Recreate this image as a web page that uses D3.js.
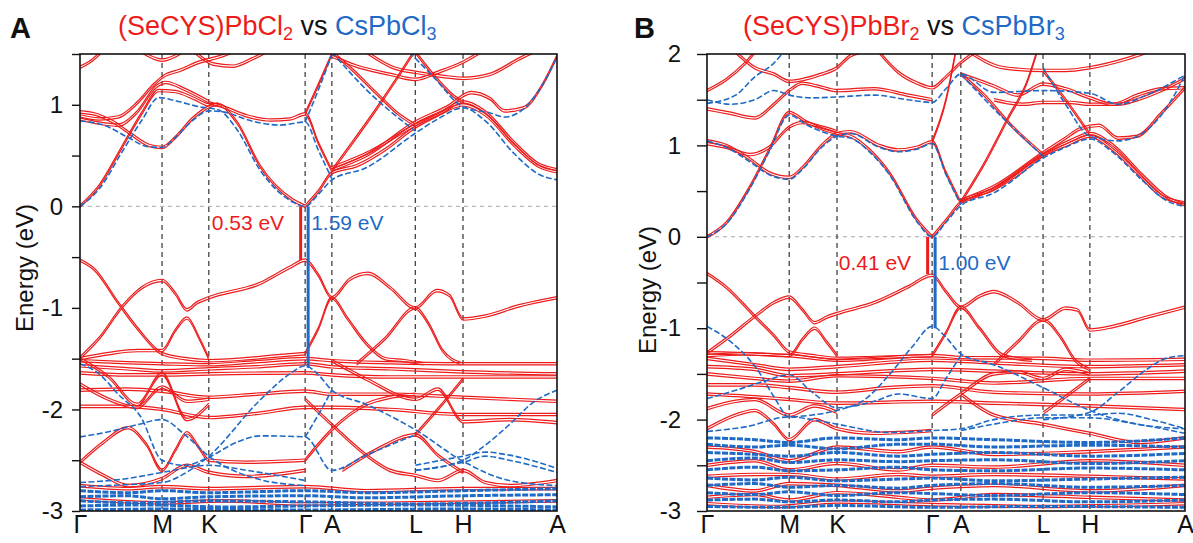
<!DOCTYPE html>
<html>
<head>
<meta charset="utf-8">
<script src="https://cdn.jsdelivr.net/npm/d3@7"></script>
<style>
  body { margin: 0; background: #fff; }
  svg { font-family: "Liberation Sans", Arial, sans-serif; }
</style>
</head>
<body>
<svg id="chart" width="1193" height="543"></svg>
<script>
// high-symmetry path
const kLabels = ["Γ", "M", "K", "Γ", "A", "L", "H", "A"];
const kTicksA = [0, 0.172, 0.27, 0.472, 0.528, 0.703, 0.803, 1];
const kTicksB = [0, 0.172, 0.272, 0.471, 0.531, 0.703, 0.801, 1];

// band gaps at Γ (eV)
const gapA = [0.53, 1.59];
const gapB = [0.41, 1.00];

// ---- panel A : (SeCYS)PbCl2 (red) vs CsPbCl3 (blue) ----
const redA = [
  [[0,0],[0.04,0.2],[0.09,0.6],[0.13,0.92],[0.165,1.14],[0.2,1.13],[0.24,1.06],[0.27,1.0],[0.29,1.0],[0.33,0.82],[0.377,0.4],[0.447,0.06],[0.472,0]],
  [[0,0.93],[0.03,0.91],[0.07,0.83],[0.11,0.7],[0.145,0.6],[0.172,0.58],[0.2,0.68],[0.235,0.86],[0.27,0.98],[0.29,1.01]],
  [[0,0.89],[0.04,0.86],[0.08,0.88],[0.12,1.02],[0.155,1.2],[0.175,1.28],[0.21,1.34],[0.25,1.42],[0.29,1.47],[0.32,1.52]],
  [[0,0.86],[0.04,0.82],[0.08,0.8],[0.12,0.93],[0.16,1.18],[0.18,1.22],[0.22,1.15],[0.27,1.03]],
  [[0,1.37],[0.02,1.42],[0.045,1.52]],
  [[0.13,1.52],[0.172,1.44],[0.215,1.52]],
  [[0.24,1.52],[0.28,1.4],[0.32,1.38],[0.36,1.45],[0.39,1.52]],
  [[0.27,1.02],[0.3,0.98],[0.35,0.89],[0.4,0.85],[0.44,0.86],[0.472,0.91],[0.5,0.62],[0.528,0.35]],
  [[0.472,0.91],[0.5,1.2],[0.53,1.52]],
  [[0.472,0],[0.5,0.15],[0.528,0.33],[0.58,0.4],[0.64,0.56],[0.703,0.78],[0.75,0.9],[0.803,1.0],[0.85,0.9],[0.91,0.6],[0.96,0.4],[1.0,0.34]],
  [[0.528,0.36],[0.6,0.5],[0.703,0.83],[0.77,0.98],[0.82,1.12],[0.86,1.06],[0.89,0.94],[0.93,0.97],[0.97,1.2],[1.0,1.48]],
  [[0.528,0.38],[0.6,0.52],[0.703,0.8],[0.76,0.93],[0.803,1.03],[0.85,0.93],[0.91,0.63],[0.96,0.42],[1.0,0.36]],
  [[0.528,1.52],[0.57,1.35],[0.62,1.12],[0.67,0.9],[0.703,0.8]],
  [[0.703,1.52],[0.74,1.3],[0.78,1.1],[0.803,1.02]],
  [[0.528,0.35],[0.57,0.62],[0.62,0.95],[0.67,1.3],[0.7,1.52]],
  [[0.528,1.48],[0.58,1.38],[0.65,1.3],[0.703,1.25],[0.75,1.32],[0.803,1.42],[0.84,1.52]],
  [[0.6,1.52],[0.66,1.36],[0.703,1.32],[0.76,1.28],[0.803,1.26],[0.86,1.3],[0.92,1.45],[0.95,1.52]],
  // valence
  [[0,-0.53],[0.03,-0.62],[0.08,-0.95],[0.12,-1.2],[0.172,-1.45],[0.22,-1.5],[0.27,-1.52],[0.35,-1.5],[0.42,-1.47],[0.472,-1.45]],
  [[0,-1.49],[0.04,-1.3],[0.09,-0.98],[0.13,-0.8],[0.172,-0.73],[0.2,-0.86],[0.224,-1.02],[0.245,-0.95],[0.27,-0.9],[0.377,-0.76],[0.44,-0.6],[0.472,-0.53],[0.5,-0.68],[0.528,-0.9],[0.565,-0.72],[0.604,-0.66],[0.65,-0.8],[0.703,-1.0],[0.748,-0.83],[0.775,-0.88],[0.803,-1.11],[0.85,-1.08],[0.92,-0.98],[1.0,-0.9]],
  [[0,-1.5],[0.06,-1.45],[0.12,-1.42],[0.172,-1.42],[0.2,-1.22],[0.224,-1.1],[0.25,-1.3],[0.27,-1.5]],
  [[0.472,-1.45],[0.5,-1.2],[0.528,-0.9],[0.56,-1.1],[0.6,-1.35],[0.64,-1.5],[0.68,-1.52],[0.72,-1.55]],
  [[0.58,-1.55],[0.64,-1.3],[0.703,-1.0],[0.73,-1.15],[0.76,-1.42],[0.8,-1.55]],
  [[0,-1.52],[0.1,-1.54],[0.172,-1.55],[0.27,-1.56],[0.37,-1.53],[0.472,-1.5],[0.528,-1.52],[0.65,-1.54],[0.803,-1.55],[0.9,-1.55],[1.0,-1.55]],
  [[0,-1.57],[0.1,-1.6],[0.172,-1.62],[0.27,-1.6],[0.37,-1.58],[0.472,-1.55],[0.528,-1.58],[0.65,-1.6],[0.803,-1.63],[1.0,-1.65]],
  [[0,-1.64],[0.1,-1.66],[0.172,-1.66],[0.27,-1.65],[0.472,-1.64],[0.528,-1.66],[0.65,-1.68],[0.803,-1.68],[1.0,-1.68]],
  [[0,-1.81],[0.1,-1.8],[0.172,-1.82],[0.27,-1.88],[0.37,-1.85],[0.472,-1.82],[0.528,-1.85],[0.65,-1.85],[0.803,-1.88],[1.0,-1.92]],
  [[0,-1.97],[0.1,-1.97],[0.172,-2.0],[0.27,-2.08],[0.37,-2.04],[0.472,-1.98],[0.528,-1.98],[0.65,-2.0],[0.803,-2.05],[1.0,-2.05]],
  [[0,-1.5],[0.06,-1.68],[0.12,-1.95],[0.172,-1.65],[0.224,-2.1],[0.27,-1.95]],
  [[0,-1.75],[0.06,-1.9],[0.12,-1.98],[0.172,-1.78],[0.224,-1.92],[0.27,-1.9]],
  [[0.528,-1.52],[0.6,-1.7],[0.703,-1.9],[0.75,-1.8],[0.803,-2.12],[0.9,-2.1],[1.0,-2.13]],
  [[0,-2.52],[0.05,-2.32],[0.1,-2.18],[0.14,-2.35],[0.172,-2.6],[0.2,-2.4],[0.224,-2.23],[0.25,-2.38],[0.27,-2.5],[0.35,-2.52],[0.472,-2.5]],
  [[0,-2.52],[0.05,-2.65],[0.1,-2.75],[0.172,-2.68],[0.224,-2.55],[0.27,-2.62],[0.35,-2.66],[0.472,-2.6]],
  [[0.472,-2.5],[0.528,-2.2],[0.6,-1.95],[0.65,-1.88],[0.703,-1.85]],
  [[0.472,-1.9],[0.528,-2.15],[0.6,-2.45],[0.65,-2.6],[0.703,-2.65],[0.75,-2.7],[0.803,-2.6],[0.85,-2.72],[0.9,-2.75],[1,-2.7]],
  [[0.703,-2.25],[0.75,-2.0],[0.803,-1.7]],
  [[0.55,-2.6],[0.62,-2.4],[0.703,-2.25],[0.75,-2.45],[0.803,-2.62]],
  [[0,-2.75],[0.1,-2.78],[0.172,-2.76],[0.27,-2.78],[0.472,-2.76],[0.6,-2.8],[0.803,-2.78],[1,-2.78]],
  [[0,-2.88],[0.172,-2.92],[0.3,-2.9],[0.472,-2.93],[0.7,-2.92],[1,-2.9]]
];
const blueA = [
  [[0,0],[0.04,0.17],[0.09,0.55],[0.13,0.85],[0.165,1.07],[0.2,1.04],[0.25,0.98],[0.29,0.95],[0.33,0.75],[0.377,0.36],[0.447,0.04],[0.472,0],[0.5,0.12],[0.528,0.26],[0.6,0.38],[0.703,0.72],[0.75,0.86],[0.803,0.97],[0.85,0.84],[0.91,0.52],[0.96,0.32],[1.0,0.26]],
  [[0,0.84],[0.05,0.8],[0.1,0.68],[0.14,0.59],[0.172,0.58],[0.2,0.68],[0.24,0.86],[0.27,0.94],[0.3,0.93],[0.36,0.84],[0.42,0.8],[0.472,0.83],[0.5,0.55],[0.528,0.27]],
  [[0.472,0.83],[0.5,1.15],[0.53,1.52]],
  [[0.528,1.52],[0.6,1.15],[0.703,0.74]],
  [[0.69,1.52],[0.74,1.28],[0.803,0.98],[0.86,0.92],[0.89,0.88],[0.93,0.96],[0.97,1.2],[1.0,1.47]],
  [[0,-1.55],[0.04,-1.65],[0.08,-1.85],[0.127,-2.07],[0.172,-2.5],[0.22,-2.55],[0.27,-2.47],[0.33,-2.32],[0.377,-2.26],[0.472,-2.27],[0.528,-2.6],[0.6,-2.45],[0.703,-2.25]],
  [[0,-2.27],[0.06,-2.22],[0.12,-2.15],[0.172,-2.1],[0.22,-2.25],[0.27,-2.46],[0.377,-2.69],[0.472,-2.75]],
  [[0,-2.76],[0.1,-2.74],[0.172,-2.72],[0.23,-2.6],[0.27,-2.46],[0.377,-1.91],[0.44,-1.65],[0.472,-1.57],[0.5,-1.66],[0.528,-1.81],[0.6,-1.95],[0.703,-2.2],[0.803,-2.51],[0.9,-2.7],[1,-2.75]],
  [[0.472,-2.27],[0.5,-2.05],[0.528,-1.81]],
  [[0.703,-2.6],[0.803,-2.5],[0.85,-2.35],[0.9,-2.15],[0.95,-1.93],[1,-1.81]],
  [[0.703,-2.55],[0.803,-2.46],[0.85,-2.42],[0.9,-2.45],[1,-2.58]],
  [[0.703,-2.6],[0.803,-2.52],[0.85,-2.46],[0.9,-2.5],[1,-2.62]],
  [[0,-2.72],[0.1,-2.68],[0.172,-2.62],[0.27,-2.55],[0.35,-2.6],[0.472,-2.7]]
];
const blueDenseA = [
  [[0,-2.8],[0.1,-2.82],[0.172,-2.8],[0.27,-2.82],[0.472,-2.8],[0.6,-2.82],[0.803,-2.8],[1,-2.78]],
  [[0,-2.86],[0.1,-2.85],[0.172,-2.88],[0.27,-2.86],[0.472,-2.85],[0.6,-2.87],[0.803,-2.85],[1,-2.84]],
  [[0,-2.9],[0.12,-2.92],[0.27,-2.9],[0.472,-2.91],[0.7,-2.93],[1,-2.9]],
  [[0,-2.95],[0.15,-2.94],[0.3,-2.96],[0.472,-2.95],[0.7,-2.94],[1,-2.96]],
  [[0,-2.99],[0.2,-2.98],[0.472,-2.99],[0.8,-2.98],[1,-2.99]]
];

// ---- panel B : (SeCYS)PbBr2 (red) vs CsPbBr3 (blue) ----
const redB = [
  [[0,0],[0.04,0.15],[0.09,0.55],[0.13,0.95],[0.172,1.36],[0.21,1.25],[0.272,1.13],[0.3,1.1],[0.34,0.95],[0.383,0.69],[0.44,0.18],[0.471,0]],
  [[0,1.05],[0.04,1.0],[0.09,0.85],[0.13,0.7],[0.172,0.65],[0.2,0.76],[0.24,1.0],[0.272,1.13],[0.3,1.15],[0.36,1.0],[0.4,0.95],[0.44,0.98],[0.471,1.04],[0.5,0.7],[0.531,0.37]],
  [[0,1.02],[0.04,0.98],[0.09,0.9],[0.13,0.98],[0.172,1.2],[0.2,1.25],[0.24,1.2],[0.272,1.15]],
  [[0,1.4],[0.05,1.35],[0.1,1.3],[0.14,1.45],[0.172,1.6],[0.2,1.68],[0.23,1.65],[0.272,1.6],[0.35,1.62],[0.42,1.55],[0.471,1.5]],
  [[0,1.6],[0.04,1.72],[0.08,1.9],[0.1,2.02]],
  [[0.06,2.02],[0.1,1.85],[0.14,1.78],[0.172,1.7],[0.2,1.72],[0.24,1.78],[0.272,1.85],[0.3,1.98],[0.32,2.02]],
  [[0.36,2.02],[0.4,1.8],[0.44,1.68],[0.471,1.63],[0.5,1.75],[0.53,1.9],[0.56,2.02]],
  [[0.471,1.04],[0.5,1.5],[0.52,2.02]],
  [[0.471,0],[0.5,0.18],[0.531,0.38],[0.6,0.52],[0.65,0.68],[0.703,0.89],[0.75,1.0],[0.801,1.1],[0.85,0.95],[0.9,0.7],[0.95,0.45],[1.0,0.37]],
  [[0.531,0.4],[0.6,0.55],[0.703,0.92],[0.75,1.08],[0.78,1.18],[0.82,1.22],[0.86,1.08],[0.9,1.1],[0.95,1.35],[1.0,1.63]],
  [[0.531,0.38],[0.6,0.53],[0.703,0.9],[0.76,1.05],[0.801,1.13],[0.85,1.0],[0.91,0.68],[0.96,0.44],[1.0,0.35]],
  [[0.531,1.78],[0.58,1.55],[0.64,1.2],[0.703,0.9]],
  [[0.531,0.38],[0.58,0.8],[0.63,1.3],[0.67,1.7],[0.69,2.02]],
  [[0.703,1.82],[0.75,1.5],[0.801,1.12]],
  [[0.531,1.78],[0.6,1.65],[0.65,1.55],[0.703,1.67],[0.75,1.62],[0.801,1.52],[0.85,1.45],[0.9,1.55],[0.95,1.62],[1,1.63]],
  [[0.55,2.02],[0.62,1.85],[0.703,1.82],[0.75,1.82],[0.801,1.85],[0.88,1.95],[0.92,2.02]],
  [[0.6,1.5],[0.66,1.45],[0.703,1.47],[0.76,1.47],[0.801,1.45],[0.86,1.45],[0.9,1.5],[0.95,1.6],[1,1.73]],
  // valence
  [[0,-0.4],[0.04,-0.55],[0.1,-0.87],[0.14,-1.08],[0.172,-1.26],[0.22,-1.3],[0.272,-1.33],[0.35,-1.32],[0.471,-1.3]],
  [[0,-1.27],[0.05,-1.08],[0.1,-0.87],[0.14,-0.72],[0.172,-0.66],[0.2,-0.8],[0.225,-0.94],[0.25,-0.88],[0.272,-0.84],[0.35,-0.72],[0.42,-0.55],[0.471,-0.42],[0.5,-0.6],[0.531,-0.77],[0.57,-0.65],[0.6,-0.6],[0.65,-0.72],[0.703,-0.91],[0.75,-0.78],[0.775,-0.8],[0.801,-1.02],[0.85,-0.98],[0.92,-0.88],[1,-0.77]],
  [[0,-1.3],[0.08,-1.28],[0.172,-1.3],[0.2,-1.12],[0.225,-1.0],[0.25,-1.15],[0.272,-1.3]],
  [[0.471,-1.3],[0.5,-1.05],[0.531,-0.77],[0.57,-1.0],[0.62,-1.3],[0.68,-1.35]],
  [[0.6,-1.4],[0.65,-1.15],[0.703,-0.91],[0.74,-1.1],[0.77,-1.35],[0.8,-1.45]],
  [[0,-1.27],[0.172,-1.3],[0.272,-1.35],[0.471,-1.3],[0.531,-1.32],[0.703,-1.33],[0.801,-1.35],[1,-1.34]],
  [[0,-1.33],[0.1,-1.4],[0.172,-1.45],[0.272,-1.42],[0.471,-1.35],[0.6,-1.38],[0.801,-1.42],[1,-1.4]],
  [[0,-1.42],[0.1,-1.45],[0.172,-1.52],[0.272,-1.5],[0.471,-1.45],[0.6,-1.47],[0.801,-1.5],[1,-1.47]],
  [[0,-1.5],[0.1,-1.55],[0.172,-1.58],[0.272,-1.52],[0.471,-1.55],[0.6,-1.6],[0.801,-1.55],[1,-1.55]],
  [[0,-1.62],[0.1,-1.62],[0.172,-1.65],[0.272,-1.7],[0.38,-1.65],[0.471,-1.63],[0.6,-1.7],[0.801,-1.72],[1,-1.69]],
  [[0,-1.72],[0.1,-1.75],[0.172,-1.78],[0.272,-1.82],[0.471,-1.8],[0.6,-1.82],[0.801,-1.85],[1,-1.89]],
  [[0,-1.88],[0.06,-1.8],[0.1,-1.78],[0.172,-1.95],[0.225,-1.85],[0.272,-1.92]],
  [[0,-2.1],[0.06,-1.95],[0.1,-1.9],[0.14,-2.05],[0.172,-2.22],[0.225,-2.0],[0.272,-2.1],[0.35,-2.15],[0.471,-2.12]],
  [[0.471,-1.95],[0.531,-1.72],[0.6,-1.5],[0.65,-1.48],[0.703,-1.55],[0.75,-1.45],[0.801,-1.5]],
  [[0.531,-1.72],[0.6,-1.95],[0.703,-2.05],[0.75,-2.1],[0.801,-2.15],[0.9,-2.25],[1,-2.2]],
  [[0.703,-1.93],[0.75,-1.75],[0.801,-1.55]],
  [[0,-2.3],[0.1,-2.35],[0.172,-2.45],[0.272,-2.3],[0.4,-2.35],[0.471,-2.3],[0.6,-2.38],[0.801,-2.35],[1,-2.3]],
  [[0,-2.5],[0.1,-2.45],[0.172,-2.55],[0.272,-2.48],[0.4,-2.55],[0.471,-2.5],[0.6,-2.52],[0.801,-2.45],[1,-2.5]],
  [[0,-2.62],[0.1,-2.6],[0.172,-2.6],[0.272,-2.65],[0.4,-2.6],[0.471,-2.62],[0.6,-2.6],[0.801,-2.62],[1,-2.65]],
  [[0,-2.72],[0.1,-2.78],[0.172,-2.7],[0.272,-2.72],[0.4,-2.78],[0.471,-2.75],[0.6,-2.72],[0.801,-2.78],[1,-2.72]],
  [[0,-2.85],[0.1,-2.82],[0.172,-2.88],[0.272,-2.8],[0.4,-2.85],[0.471,-2.88],[0.6,-2.82],[0.801,-2.85],[1,-2.88]],
  [[0,-2.92],[0.15,-2.95],[0.272,-2.9],[0.471,-2.93],[0.7,-2.95],[1,-2.92]]
];
const blueB = [
  [[0,0],[0.04,0.14],[0.09,0.53],[0.13,0.93],[0.172,1.33],[0.21,1.22],[0.272,1.1],[0.3,1.08],[0.34,0.93],[0.383,0.67],[0.44,0.16],[0.471,0],[0.5,0.16],[0.531,0.34],[0.6,0.48],[0.703,0.86],[0.75,0.98],[0.801,1.07],[0.85,0.92],[0.91,0.62],[0.96,0.4],[1.0,0.33]],
  [[0,1.05],[0.04,0.98],[0.09,0.82],[0.13,0.68],[0.172,0.63],[0.2,0.74],[0.24,0.98],[0.272,1.1],[0.3,1.13],[0.36,0.98],[0.4,0.93],[0.44,0.96],[0.471,1.02],[0.5,0.68],[0.531,0.35]],
  [[0,1.5],[0.05,1.45],[0.1,1.5],[0.14,1.6],[0.172,1.55],[0.22,1.52],[0.272,1.53],[0.35,1.55],[0.42,1.5],[0.471,1.47],[0.5,1.62],[0.531,1.78],[0.6,1.58],[0.703,1.6],[0.801,1.57],[0.86,1.45],[0.92,1.55],[1,1.77]],
  [[0,1.46],[0.06,1.55],[0.1,1.75],[0.14,1.9],[0.16,2.02]],
  [[0.531,1.78],[0.6,1.4],[0.703,0.88]],
  [[0.703,1.85],[0.75,1.45],[0.801,1.1],[0.86,1.05],[0.9,1.1],[0.96,1.4],[1,1.77]],
  [[0,-0.98],[0.05,-1.15],[0.105,-1.45],[0.14,-1.75],[0.172,-1.97],[0.22,-1.95],[0.272,-1.9],[0.33,-1.78],[0.383,-1.5],[0.43,-1.2],[0.471,-0.98],[0.5,-1.1],[0.531,-1.28],[0.6,-1.4],[0.703,-1.65],[0.801,-1.9],[0.9,-2.05],[1,-2.1]],
  [[0,-1.77],[0.06,-1.68],[0.12,-1.58],[0.172,-1.51],[0.22,-1.7],[0.272,-1.87],[0.35,-1.8],[0.4,-1.72],[0.471,-1.77],[0.5,-1.55],[0.531,-1.3]],
  [[0,-2.13],[0.08,-2.08],[0.172,-1.97],[0.22,-2.0],[0.272,-2.05],[0.38,-2.14],[0.471,-2.12],[0.531,-2.1],[0.6,-2.0],[0.703,-1.95],[0.801,-1.95],[0.86,-1.93],[0.93,-2.0],[1,-2.1]],
  [[0.531,-2.12],[0.6,-2.05],[0.703,-1.98],[0.801,-1.98],[0.9,-2.05],[1,-2.15]],
  [[0.703,-2.0],[0.801,-1.92],[0.86,-1.7],[0.92,-1.45],[0.96,-1.33],[1,-1.3]]
];
const blueDenseB = [
  [[0,-2.2],[0.1,-2.22],[0.172,-2.25],[0.272,-2.2],[0.4,-2.22],[0.471,-2.2],[0.6,-2.22],[0.801,-2.25],[1,-2.2]],
  [[0,-2.27],[0.1,-2.3],[0.172,-2.28],[0.272,-2.32],[0.4,-2.27],[0.471,-2.27],[0.6,-2.3],[0.801,-2.28],[1,-2.3]],
  [[0,-2.36],[0.1,-2.38],[0.172,-2.4],[0.272,-2.36],[0.4,-2.4],[0.471,-2.38],[0.6,-2.36],[0.801,-2.4],[1,-2.37]],
  [[0,-2.45],[0.1,-2.42],[0.172,-2.47],[0.272,-2.44],[0.4,-2.46],[0.471,-2.45],[0.6,-2.44],[0.801,-2.48],[1,-2.45]],
  [[0,-2.55],[0.1,-2.52],[0.172,-2.56],[0.272,-2.55],[0.4,-2.52],[0.471,-2.55],[0.6,-2.56],[0.801,-2.53],[1,-2.55]],
  [[0,-2.64],[0.1,-2.66],[0.172,-2.63],[0.272,-2.67],[0.4,-2.65],[0.471,-2.64],[0.6,-2.67],[0.801,-2.65],[1,-2.63]],
  [[0,-2.72],[0.1,-2.7],[0.172,-2.74],[0.272,-2.72],[0.4,-2.75],[0.471,-2.72],[0.6,-2.7],[0.801,-2.74],[1,-2.72]],
  [[0,-2.8],[0.1,-2.82],[0.172,-2.79],[0.272,-2.83],[0.4,-2.8],[0.471,-2.81],[0.6,-2.83],[0.801,-2.8],[1,-2.82]],
  [[0,-2.88],[0.1,-2.87],[0.172,-2.9],[0.272,-2.88],[0.4,-2.9],[0.471,-2.88],[0.6,-2.87],[0.801,-2.9],[1,-2.88]],
  [[0,-2.95],[0.15,-2.96],[0.272,-2.94],[0.471,-2.96],[0.7,-2.95],[1,-2.96]]
];

const RED = "#ee1b1b";
const BLUE = "#1f6ac6";

const svg = d3.select("#chart");

function drawPanel(p) {
  const g = svg.append("g");
  const x = d3.scaleLinear().domain([0, 1]).range([p.left, p.right]);
  const y = d3.scaleLinear().domain([-3, p.yMax]).range([p.bottom, p.top]);

  g.append("clipPath").attr("id", "clip" + p.id)
    .append("rect")
    .attr("x", p.left).attr("y", p.top)
    .attr("width", p.right - p.left).attr("height", p.bottom - p.top);

  // zero line
  g.append("line")
    .attr("x1", x(0)).attr("x2", x(1))
    .attr("y1", y(0)).attr("y2", y(0))
    .attr("stroke", "#aaa").attr("stroke-width", 1)
    .attr("stroke-dasharray", "4,4");

  // high-symmetry vertical lines
  g.selectAll(".kline").data(p.ticks.slice(1, -1)).enter().append("line")
    .attr("x1", d => x(d)).attr("x2", d => x(d))
    .attr("y1", p.top).attr("y2", p.bottom)
    .attr("stroke", "#444").attr("stroke-width", 1.3)
    .attr("stroke-dasharray", "5,4");

  const line = d3.line()
    .x(d => x(d[0]))
    .y(d => y(d[1]))
    .curve(d3.curveMonotoneX);

  const bands = g.append("g").attr("clip-path", "url(#clip" + p.id + ")");

  // red bands are drawn as close doubled lines
  [-1.2, 1.2].forEach(off => {
    bands.append("g").attr("transform", "translate(0," + off + ")")
      .selectAll("path").data(p.red).enter().append("path")
      .attr("d", line)
      .attr("fill", "none").attr("stroke", RED).attr("stroke-width", 1.2);
  });

  bands.append("g").selectAll("path").data(p.blueDense).enter().append("path")
    .attr("d", line)
    .attr("fill", "none").attr("stroke", BLUE).attr("stroke-width", 3)
    .attr("stroke-dasharray", "6,1.5");

  bands.append("g").selectAll("path").data(p.blue).enter().append("path")
    .attr("d", line)
    .attr("fill", "none").attr("stroke", BLUE).attr("stroke-width", 1.6)
    .attr("stroke-dasharray", "6,2.5");

  // gap bars
  const xg = x(p.ticks[3]);
  g.append("line")
    .attr("x1", xg - 4.5).attr("x2", xg - 4.5)
    .attr("y1", y(0)).attr("y2", y(-p.gap[0]))
    .attr("stroke", RED).attr("stroke-width", 3);
  g.append("line")
    .attr("x1", xg + 3).attr("x2", xg + 3)
    .attr("y1", y(0)).attr("y2", y(-p.gap[1]))
    .attr("stroke", BLUE).attr("stroke-width", 3);
  g.append("text")
    .attr("x", xg - 21).attr("y", y(0) + p.gapDy)
    .attr("text-anchor", "end").attr("font-size", 21).attr("fill", RED)
    .text(p.gap[0].toFixed(2) + " eV");
  g.append("text")
    .attr("x", xg + 6).attr("y", y(0) + p.gapDy)
    .attr("text-anchor", "start").attr("font-size", 21).attr("fill", BLUE)
    .text(p.gap[1].toFixed(2) + " eV");

  // frame
  g.append("rect")
    .attr("x", p.left).attr("y", p.top)
    .attr("width", p.right - p.left).attr("height", p.bottom - p.top)
    .attr("fill", "none").attr("stroke", "#111").attr("stroke-width", 1.6);

  // y axis
  const yAxis = d3.axisLeft(y)
    .tickValues(d3.range(-3, p.yMax + 0.01, 0.5))
    .tickSize(p.tickLen)
    .tickPadding(p.tickPad)
    .tickFormat(d => Number.isInteger(d) ? String(d) : "");
  const ya = g.append("g").attr("transform", "translate(" + p.left + ",0)").call(yAxis);
  ya.select(".domain").remove();
  ya.selectAll("line").attr("stroke", "#111").attr("stroke-width", 1.4);
  ya.selectAll("text").attr("font-size", 24).attr("fill", "#111")
    .attr("font-family", "Liberation Sans, Arial, sans-serif");

  // x axis
  const xAxis = d3.axisBottom(x)
    .tickValues(p.ticks)
    .tickSize(0)
    .tickPadding(4)
    .tickFormat((d, i) => kLabels[i]);
  const xa = g.append("g").attr("transform", "translate(0," + p.bottom + ")").call(xAxis);
  xa.select(".domain").remove();
  xa.selectAll("text").attr("font-size", 25).attr("fill", "#111")
    .attr("font-family", "Liberation Sans, Arial, sans-serif");

  // axis title
  g.append("text")
    .attr("transform", "translate(" + p.ylabX + "," + p.ylabY + ") rotate(-90)")
    .attr("text-anchor", "middle").attr("font-size", 24).attr("fill", "#111")
    .text("Energy (eV)");

  // panel letter
  g.append("text")
    .attr("x", p.letterX).attr("y", 38)
    .attr("font-size", 29).attr("font-weight", "bold").attr("fill", "#111")
    .text(p.id);

  // title
  const t = g.append("text").attr("x", p.titleX).attr("y", 35).attr("font-size", 27);
  p.title.forEach(part => {
    const s = t.append("tspan").attr("fill", part[1]).text(part[0]);
    if (part[2] === "sub") s.attr("font-size", 18).attr("dy", 5);
    if (part[2] === "up") s.attr("dy", -5);
  });
}

drawPanel({
  id: "A", left: 80, right: 557, top: 54, bottom: 511, yMax: 1.5,
  ticks: kTicksA, red: redA, blue: blueA, blueDense: blueDenseA,
  gap: gapA, gapDy: 24, tickLen: 8, tickPad: 9,
  ylabX: 33, ylabY: 268, letterX: 10, titleX: 118,
  title: [["(SeCYS)PbCl", RED], ["2", RED, "sub"], [" vs ", "#111", "up"],
           ["CsPbCl", BLUE], ["3", BLUE, "sub"]]
});
drawPanel({
  id: "B", left: 707, right: 1185, top: 54, bottom: 511, yMax: 2,
  ticks: kTicksB, red: redB, blue: blueB, blueDense: blueDenseB,
  gap: gapB, gapDy: 33, tickLen: 10, tickPad: 16,
  ylabX: 656, ylabY: 290, letterX: 634, titleX: 743,
  title: [["(SeCYS)PbBr", RED], ["2", RED, "sub"], [" vs ", "#111", "up"],
           ["CsPbBr", BLUE], ["3", BLUE, "sub"]]
});
</script>
</body>
</html>
